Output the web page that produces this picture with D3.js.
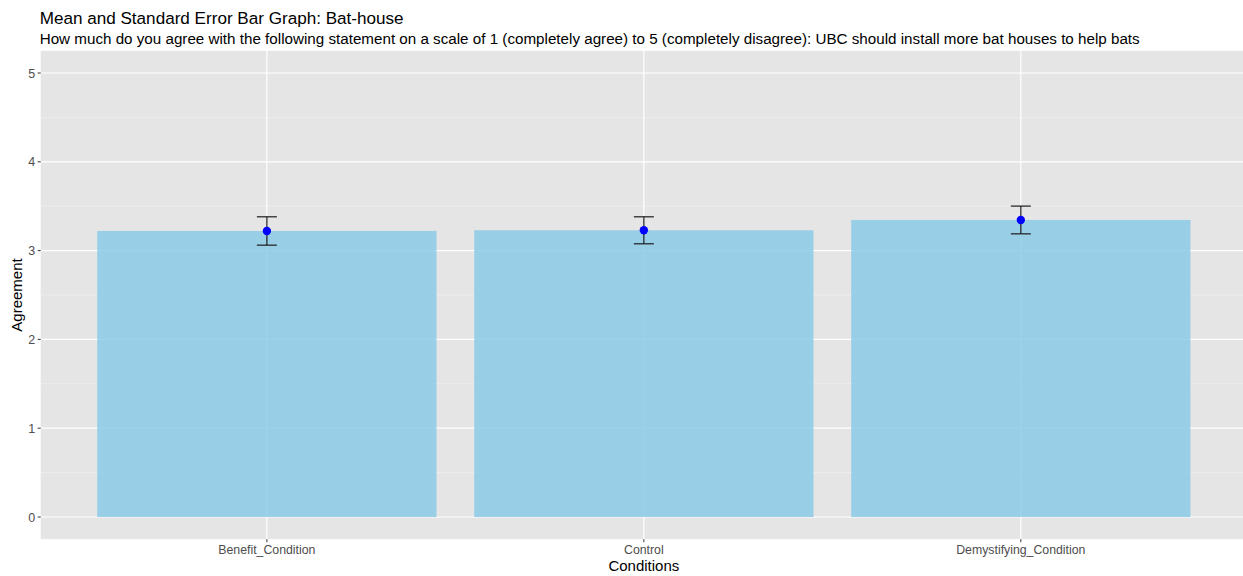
<!DOCTYPE html>
<html>
<head>
<meta charset="utf-8">
<script src="https://cdn.jsdelivr.net/npm/d3@7"></script>
<style>
  html, body { margin: 0; padding: 0; background: #ffffff; }
  svg { display: block; font-family: "Liberation Sans", Arial, sans-serif; }
</style>
</head>
<body>
<svg id="chart" width="1243" height="576"></svg>
<script>
// Conditions and their mean agreement with standard errors
const conditions = ["Benefit_Condition", "Control", "Demystifying_Condition"];
const means = [3.221, 3.229, 3.345];
const stdErrors = [0.160, 0.152, 0.156];
const yTicks = [0, 1, 2, 3, 4, 5];
const yMinorTicks = [0.5, 1.5, 2.5, 3.5, 4.5];

const titleText = "Mean and Standard Error Bar Graph: Bat-house";
const subtitleText = "How much do you agree with the following statement on a scale of 1 (completely agree) to 5 (completely disagree): UBC should install more bat houses to help bats";

const svg = d3.select("#chart");
const panel = { left: 40.7, right: 1247, top: 50.8, bottom: 539.2 };

// Discrete x: categories at 1..n with 0.6 expansion each side
const x = d3.scaleLinear()
  .domain([0.4, conditions.length + 0.6])
  .range([panel.left, panel.right]);
const y = d3.scaleLinear()
  .domain([-0.25, 5.25])
  .range([panel.bottom, panel.top]);

const barHalf = 0.45;

// Panel background
svg.append("rect")
  .attr("x", panel.left).attr("y", panel.top)
  .attr("width", panel.right - panel.left)
  .attr("height", panel.bottom - panel.top)
  .attr("fill", "#e5e5e5");

const grid = svg.append("g");
grid.selectAll(".minor").data(yMinorTicks).join("line")
  .attr("x1", panel.left).attr("x2", panel.right)
  .attr("y1", d => y(d)).attr("y2", d => y(d))
  .attr("stroke", "#f2f2f2").attr("stroke-width", 0.6);
grid.selectAll(".majorY").data(yTicks).join("line")
  .attr("x1", panel.left).attr("x2", panel.right)
  .attr("y1", d => y(d)).attr("y2", d => y(d))
  .attr("stroke", "#ffffff").attr("stroke-width", 1.2);
grid.selectAll(".majorX").data(conditions).join("line")
  .attr("x1", (d, i) => x(i + 1)).attr("x2", (d, i) => x(i + 1))
  .attr("y1", panel.top).attr("y2", panel.bottom)
  .attr("stroke", "#ffffff").attr("stroke-width", 1.2);

// Bars
svg.append("g").selectAll("rect").data(means).join("rect")
  .attr("x", (d, i) => x(i + 1 - barHalf))
  .attr("width", (d, i) => x(i + 1 + barHalf) - x(i + 1 - barHalf))
  .attr("y", d => y(d))
  .attr("height", d => y(0) - y(d))
  .attr("fill", "#87c8e6")
  .attr("fill-opacity", 0.82);

// Error bars
const whisker = 0.0265;
const eb = svg.append("g").attr("stroke", "#1a1a1a").attr("stroke-width", 1.4).attr("stroke-opacity", 0.85);
means.forEach((m, i) => {
  const lo = m - stdErrors[i], hi = m + stdErrors[i];
  const cx = x(i + 1);
  eb.append("line").attr("x1", cx).attr("x2", cx).attr("y1", y(lo)).attr("y2", y(hi));
  eb.append("line").attr("x1", x(i + 1 - whisker)).attr("x2", x(i + 1 + whisker)).attr("y1", y(hi)).attr("y2", y(hi));
  eb.append("line").attr("x1", x(i + 1 - whisker)).attr("x2", x(i + 1 + whisker)).attr("y1", y(lo)).attr("y2", y(lo));
});

// Mean points
svg.append("g").selectAll("circle").data(means).join("circle")
  .attr("cx", (d, i) => x(i + 1))
  .attr("cy", d => y(d))
  .attr("r", 4.2)
  .attr("fill", "#0000ff");

// Y axis
const yAxis = svg.append("g");
yAxis.selectAll("line").data(yTicks).join("line")
  .attr("x1", panel.left - 3).attr("x2", panel.left)
  .attr("y1", d => y(d)).attr("y2", d => y(d))
  .attr("stroke", "#333333").attr("stroke-width", 1);
yAxis.selectAll("text").data(yTicks).join("text")
  .attr("x", panel.left - 5.5).attr("y", d => y(d))
  .attr("dy", "0.36em")
  .attr("text-anchor", "end")
  .attr("font-size", 12.5)
  .attr("fill", "#4d4d4d")
  .text(d => d);

// X axis
const xAxis = svg.append("g");
xAxis.selectAll("line").data(conditions).join("line")
  .attr("x1", (d, i) => x(i + 1)).attr("x2", (d, i) => x(i + 1))
  .attr("y1", panel.bottom).attr("y2", panel.bottom + 3)
  .attr("stroke", "#333333").attr("stroke-width", 1);
xAxis.selectAll("text").data(conditions).join("text")
  .attr("x", (d, i) => x(i + 1)).attr("y", 554)
  .attr("text-anchor", "middle")
  .attr("font-size", 12.3)
  .attr("fill", "#4d4d4d")
  .text(d => d);

// Axis titles
svg.append("text")
  .attr("x", x(2)).attr("y", 571)
  .attr("text-anchor", "middle")
  .attr("font-size", 15)
  .attr("fill", "#000")
  .text("Conditions");
svg.append("text")
  .attr("transform", `translate(22,${(panel.top + panel.bottom) / 2}) rotate(-90)`)
  .attr("text-anchor", "middle")
  .attr("font-size", 15)
  .attr("fill", "#000")
  .text("Agreement");

// Titles
svg.append("text")
  .attr("x", panel.left - 1).attr("y", 23.5)
  .attr("font-size", 17.1)
  .attr("fill", "#000")
  .text(titleText);
svg.append("text")
  .attr("x", panel.left - 1).attr("y", 43.5)
  .attr("font-size", 15.2)
  .attr("fill", "#000")
  .text(subtitleText);
</script>
</body>
</html>
